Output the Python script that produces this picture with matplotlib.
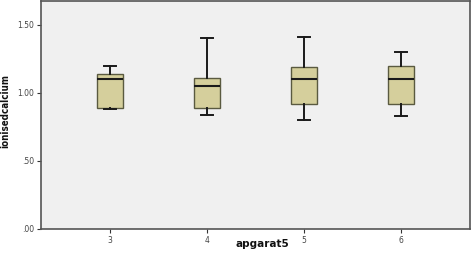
import matplotlib
matplotlib.use("Agg")
import matplotlib.pyplot as plt
from matplotlib.ticker import FixedLocator

categories = ["3", "4", "5", "6"]
whislo = [0.88, 0.84, 0.80, 0.83]
q1 = [0.89, 0.89, 0.92, 0.92]
med = [1.10, 1.05, 1.10, 1.10]
q3 = [1.14, 1.11, 1.19, 1.20]
whishi = [1.20, 1.40, 1.41, 1.30]
yticks = [0.0, 0.5, 1.0, 1.5]
ytick_labels = [".00", ".50", "1.00", "1.50"]

fig = plt.figure(figsize=(4.72, 2.54), dpi=100)
ax = fig.add_axes([41/472, 25/254, 429/472, 228/254])
ax.set_facecolor("#f0f0f0")

stats = []
for i, c in enumerate(categories):
    stats.append(dict(label=c, whislo=whislo[i], q1=q1[i], med=med[i], q3=q3[i], whishi=whishi[i], fliers=[]))

ax.bxp(stats, positions=range(len(categories)), widths=0.26, patch_artist=True, showfliers=False,
       boxprops=dict(facecolor="#d5cf9c", edgecolor="#5a5a40", linewidth=1.0),
       medianprops=dict(color="#1a1a1a", linewidth=1.5),
       whiskerprops=dict(color="#1a1a1a", linewidth=1.4),
       capprops=dict(color="#1a1a1a", linewidth=1.4),
       capwidths=0.13)

ax.set_xlim(-0.71, 3.71)
ax.set_ylim(0, 1.675)
ax.yaxis.set_major_locator(FixedLocator(yticks))
ax.set_yticklabels(ytick_labels)
ax.set_xticks(range(len(categories)))
ax.set_xticklabels(categories)
ax.tick_params(axis="both", labelsize=5.5, labelcolor="#444444", length=3, width=0.8, color="#333333", pad=2)
for s in ax.spines.values():
    s.set_color("#555555")
    s.set_linewidth(1.2)

fig.text(5/472, 1 - 111/254, "ionisedcalcium", fontsize=7, fontweight="bold", fontstretch="condensed",
         rotation=90, ha="center", va="center", color="#111111")
fig.text(262/472, 1 - 244/254, "apgarat5", fontsize=7.5, fontweight="bold", ha="center", va="center", color="#111111")

fig.savefig("out.png", dpi=100)
